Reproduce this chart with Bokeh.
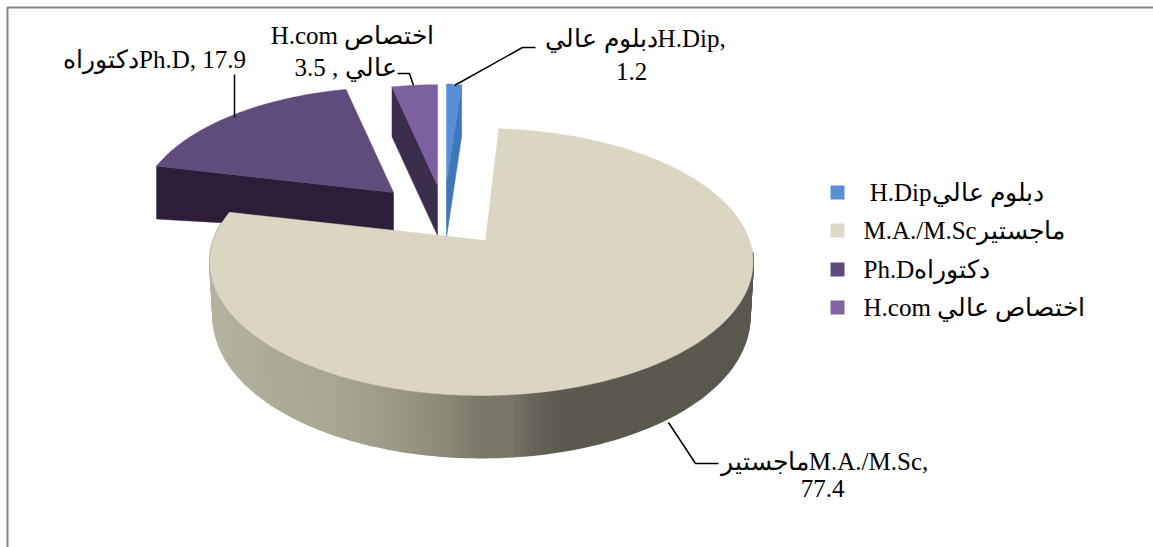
import math
from bokeh.plotting import figure
from bokeh.embed import file_html
from bokeh.resources import INLINE
from bokeh.core.properties import value

# ---- data ----
categories = ["H.Dip", "M.A./M.Sc", "Ph.D", "H.com"]
shares = [1.2, 77.4, 17.9, 3.5]
legend_labels = ["\u00a0H.Dipدبلوم عالي", "M.A./M.Scماجستير", "Ph.Dدكتوراه", "H.com اختصاص عالي"]
top_colors = ["#568ed8", "#dad6c1", "#5f4b7c", "#7d60a0"]
swatch_colors = ["#5a8fd6", "#ddd9c4", "#604a7b", "#8064a2"]
cut_colors = ["#3f77b9", None, "#2c1e38", "#3b2e4c"]
data_labels = [["دبلوم عاليH.Dip,", "1.2"], ["ماجستيرM.A./M.Sc,", "77.4"],
               ["دكتوراهPh.D, 17.9"], ["H.com اختصاص", "3.5 , عالي"]]

# ---- layout ----
W, H = 1153, 547
FONT = value("Liberation Serif")
A, B, K = 268.0, 130.0, 0.161
# per slice: apex x, apex y, radius scale, rim depth, apex depth
slice_geom = {
    "H.Dip": (446, 181, 0.87, 52, 56),
    "M.A./M.Sc": (481, 240, 1.0, 50, 50),
    "Ph.D": (393, 192, 0.94, 53, 40),
    "H.com": (437, 185, 0.90, 50, 50),
}
label_pos = [[(635, 38), (631, 71)], [(824, 461), (822, 488)], [(154, 59)], [(352, 35), (345, 67)]]
leaders = [[(454, 85), (522, 47), (535, 47)],
           [(668, 422), (695, 463), (718, 463)],
           [(234, 117), (234, 74)],
           [(413, 85), (409, 73), (397, 73)]]
legend_y = [192, 230, 269, 307]
side_stops = [(205, "#b6b4a1"), (270, "#adab98"), (340, "#a8a693"), (400, "#9a9782"), (440, "#8c8b77"),
              (480, "#7a7968"), (510, "#7b7668"), (530, "#67655a"), (560, "#5c5a4f"), (760, "#5a584e")]


def rim(name, theta_deg):
    ox, oy, s, _, _ = slice_geom[name]
    t = math.radians(theta_deg)
    u, v = math.sin(t), math.cos(t)
    d = 1 + K * v
    return ox + s * A * u / d, oy - s * B * v / d, v


def side_color(x):
    def rgb(c):
        return [int(c[i:i + 2], 16) for i in (1, 3, 5)]
    for (x0, c0), (x1, c1) in zip(side_stops, side_stops[1:]):
        if x <= x1:
            f = max(0, (x - x0) / (x1 - x0))
            return "#%02x%02x%02x" % tuple(round(a + (b - a) * f) for a, b in zip(rgb(c0), rgb(c1)))
    return side_stops[-1][1]


p = figure(width=W, height=H, x_range=(0, W), y_range=(H, 0), output_backend="svg",
           toolbar_location=None, min_border=0, outline_line_color=None, background_fill_color="white")
p.axis.visible = False
p.grid.visible = False

# frame
p.line([7, 7, W], [H, 7, 7], line_color="#868686", line_width=2)

# slice angles (clockwise from 12 o'clock)
bounds = {}
acc = 0.0
for c, v in zip(categories, shares):
    bounds[c] = (acc, acc + v * 3.6)
    acc += v * 3.6


def top_face(name, steps=160):
    a0, a1 = bounds[name]
    ox, oy = slice_geom[name][:2]
    pts = [rim(name, a0 + (a1 - a0) * i / steps)[:2] for i in range(steps + 1)]
    return [ox] + [q[0] for q in pts], [oy] + [q[1] for q in pts]


def cut_face(name, theta):
    ox, oy, _, rd, ad = slice_geom[name]
    x, y, _ = rim(name, theta)
    return [ox, x, x, ox], [oy, y, y + rd, oy + ad]


# back slices: cut faces, then top faces
for name, theta in (("Ph.D", bounds["Ph.D"][0]), ("H.com", bounds["H.com"][0]), ("H.Dip", bounds["H.Dip"][1])):
    i = categories.index(name)
    xs, ys = cut_face(name, theta)
    p.patch(xs, ys, fill_color=cut_colors[i], line_color=cut_colors[i], line_width=0.5)
    xs, ys = top_face(name)
    p.patch(xs, ys, fill_color=top_colors[i], line_color=top_colors[i], line_width=0.5)

# main slice wall, built from narrow gradient quads along its rim
a0, a1 = bounds["M.A./M.Sc"]
ox = slice_geom["M.A./M.Sc"][0]
xq, yq, cq = [], [], []
n = 150
th0, th1 = 95.0, min(a1, 278.0)


def bottom(x, y, v):
    return ox + (x - ox) * 0.988, y + 47 + 15 * max(0.0, -v) ** 0.5


for i in range(n):
    t0, t1 = th0 + (th1 - th0) * i / n, th0 + (th1 - th0) * (i + 1) / n
    x0, y0, v0 = rim("M.A./M.Sc", t0)
    x1, y1, v1 = rim("M.A./M.Sc", t1)
    bx0, by0 = bottom(x0, y0, v0)
    bx1, by1 = bottom(x1, y1, v1)
    xq.append([x0, x1, bx1, bx0])
    yq.append([y0, y1, by1, by0])
    cq.append(side_color((x0 + x1) / 2))
p.patches(xq, yq, fill_color=cq, line_color=cq, line_width=2)

xs, ys = top_face("M.A./M.Sc", 400)
xs[0] = ox + 4
i = categories.index("M.A./M.Sc")
p.patch(xs, ys, fill_color=top_colors[i], line_color=top_colors[i], line_width=0.5)

# leader lines
for pts in leaders:
    p.line([q[0] for q in pts], [q[1] for q in pts], line_color="black", line_width=1.5)

# data labels
for lines, poss in zip(data_labels, label_pos):
    for t, (x, y) in zip(lines, poss):
        p.text([x], [y], text=[t], text_font=FONT, text_font_size="25px", text_color="black",
               text_align="center", text_baseline="middle")

# legend
for lab, col, y in zip(legend_labels, swatch_colors, legend_y):
    p.rect([837], [y], width=14, height=14, fill_color=col, line_color=None)
    p.text([863], [y], text=[lab], text_font=FONT, text_font_size="25px", text_color="black",
           text_align="left", text_baseline="middle")

open("out.html", "w").write(file_html(p, INLINE))
